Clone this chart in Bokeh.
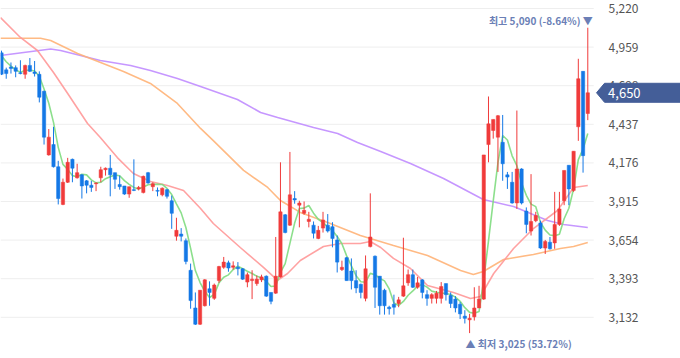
import numpy as np
from bokeh.plotting import figure
from bokeh.models import (ColumnDataSource, Range1d, FixedTicker, NumeralTickFormatter,
                          LinearAxis)
from bokeh.core.properties import value
from bokeh.embed import file_html
from bokeh.resources import INLINE

# ---------------- data ----------------
opens = [4920, 4805, 4825, 4820, 4785, 4775, 4835, 4790, 4775, 4660,
         4230, 4300, 4150, 3895, 4045, 4200, 4075, 4095, 4055, 4025,
         4035, 4075, 4130, 4140, 4110, 4030, 4020, 3965, 3995, 4000,
         3975, 4110, 4015, 3990, 3960, 3995, 3920, 3680, 3695, 3650,
         3450, 3195, 3085, 3210, 3325, 3260, 3380, 3470, 3500, 3470,
         3470, 3460, 3370, 3380, 3360, 3385, 3410, 3300, 3295, 3405,
         3825, 3755, 3935, 3890, 3835, 3780, 3755, 3665, 3735, 3755,
         3745, 3655, 3455, 3535, 3445, 3380, 3355, 3260, 3610, 3545,
         3410, 3315, 3200, 3220, 3225, 3275, 3365, 3420, 3335, 3385,
         3285, 3260, 3260, 3260, 3360, 3280, 3255, 3220, 3140, 3115,
         3135, 3195, 3255, 4300, 4395, 4350, 4315, 4095, 4045, 3905,
         4135, 3850, 3715, 3785, 3770, 3600, 3640, 3635, 3760, 3920,
         4160, 3990, 4420, 4795, 4510]
highs = [4935, 4820, 4855, 4835, 4870, 4840, 4885, 4865, 4795, 4665,
         4405, 4420, 4190, 4070, 4210, 4205, 4170, 4100, 4060, 4055,
         4045, 4150, 4145, 4230, 4110, 4090, 4020, 4015, 4200, 4020,
         4090, 4115, 4045, 4010, 4010, 4000, 3955, 3805, 3735, 3665,
         3495, 3300, 3315, 3390, 3375, 3360, 3480, 3540, 3515, 3510,
         3505, 3465, 3435, 3450, 3415, 3420, 3415, 3300, 3675, 4180,
         3830, 4250, 3985, 3920, 3915, 3845, 3780, 3750, 3845, 3830,
         3775, 3685, 3515, 3540, 3530, 3450, 3360, 3550, 3970, 3550,
         3410, 3325, 3210, 3285, 3270, 3670, 3455, 3455, 3405, 3390,
         3315, 3295, 3310, 3370, 3360, 3300, 3275, 3235, 3180, 3155,
         3335, 3345, 4230, 4625, 4470, 4500, 4500, 4115, 4115, 4530,
         4140, 3875, 4100, 3845, 3785, 3655, 3675, 3980, 3980, 4125,
         4160, 4255, 4880, 4795, 5090]
lows = [4770, 4745, 4780, 4755, 4775, 4745, 4790, 4760, 4585, 4300,
        4225, 4145, 3895, 3890, 4040, 4045, 4070, 3935, 3970, 3980,
        3985, 4045, 4090, 3950, 4000, 3995, 3960, 3940, 3985, 3990,
        3970, 4035, 3985, 3950, 3950, 3935, 3730, 3650, 3645, 3490,
        3190, 3080, 3080, 3205, 3210, 3250, 3365, 3460, 3440, 3455,
        3415, 3385, 3335, 3255, 3345, 3370, 3270, 3220, 3290, 3400,
        3700, 3750, 3900, 3740, 3825, 3740, 3665, 3660, 3705, 3705,
        3605, 3435, 3445, 3380, 3320, 3295, 3260, 3240, 3605, 3195,
        3150, 3150, 3150, 3150, 3200, 3270, 3345, 3330, 3325, 3260,
        3210, 3225, 3225, 3225, 3245, 3195, 3165, 3120, 3090, 3025,
        3110, 3195, 3250, 4180, 4340, 4115, 4055, 4000, 3900, 3865,
        3895, 3700, 3685, 3775, 3595, 3560, 3590, 3595, 3750, 3890,
        3890, 3980, 4325, 4110, 4465]
closes = [4775, 4780, 4815, 4795, 4780, 4835, 4795, 4780, 4620, 4350,
          4350, 4150, 3935, 4045, 4180, 4140, 4110, 4020, 4025, 4010,
          4040, 4130, 4140, 4095, 4065, 4015, 3965, 4015, 3990, 4010,
          4085, 4040, 4035, 3985, 4005, 3950, 3835, 3720, 3680, 3510,
          3245, 3085, 3315, 3385, 3300, 3350, 3475, 3505, 3465, 3480,
          3460, 3390, 3420, 3390, 3390, 3405, 3275, 3240, 3410, 3845,
          3705, 3960, 3925, 3905, 3855, 3795, 3700, 3720, 3790, 3715,
          3665, 3505, 3470, 3380, 3380, 3330, 3300, 3460, 3675, 3335,
          3210, 3210, 3190, 3200, 3250, 3345, 3420, 3335, 3365, 3300,
          3260, 3285, 3295, 3340, 3285, 3225, 3195, 3155, 3125, 3125,
          3195, 3255, 4230, 4440, 4470, 4495, 4170, 4080, 3905, 4135,
          3905, 3760, 3780, 3820, 3600, 3645, 3595, 3760, 3865, 4125,
          4000, 4255, 4745, 4225, 4650]

# moving-average lines (candle index, price)
ma5_head_idx = [1, 2, 3, 4]
ma5_head_val = [4900, 4860, 4830, 4805]
ma20_idx = [0.79, 5.0, 8.6, 12.0, 15.0, 19.2, 21.9, 25.5, 28.9, 32.5, 36.1, 39.5,
            43.1, 45.8, 51.5, 56.4, 59.4, 61.5, 64.2, 69.1, 72.7, 76.9, 79.0,
            81.2, 83.9, 87.5, 91.1, 96.6, 100.2, 102.3, 105.1, 109.3, 113.5,
            118.6, 122.0, 125.0]
ma20_val = [5159, 5024, 4936, 4787, 4645, 4442, 4348, 4212, 4104, 4050, 4023, 3989,
            3868, 3766, 3604, 3469, 3381, 3428, 3516, 3611, 3631, 3631, 3644,
            3604, 3530, 3462, 3347, 3300, 3259, 3273, 3428, 3597, 3732,
            3854, 4010, 4023]
ma60_idx = [0.79, 9.25, 11.4, 17.1, 26.8, 32.5, 38.2, 43.1, 45.8, 52.2, 57.3,
            60.0, 64.2, 70.0, 76.9, 83.9, 91.1, 98.1, 100.8, 102.9, 107.2,
            113.5, 119.2, 122.0, 125.0]
ma60_val = [5019, 5019, 5004, 4916, 4794, 4713, 4578, 4409, 4327, 4125, 4010,
            3922, 3841, 3773, 3685, 3617, 3550, 3448, 3421, 3442, 3523,
            3557, 3597, 3611, 3638]
ma120_idx = [0.79, 11.4, 13.5, 21.9, 28.3, 32.5, 38.2, 43.1, 50.9, 55.8, 59.4,
             67.0, 72.1, 76.3, 81.2, 87.5, 94.5, 102.9, 109.3, 116.5, 119.9, 125.0]
ma120_val = [4902, 4946, 4936, 4868, 4835, 4801, 4747, 4693, 4605, 4517, 4483,
             4415, 4375, 4314, 4253, 4172, 4071, 3928, 3881, 3786, 3759, 3739]

tick_vals = [3132, 3393, 3654, 3915, 4176, 4437, 4698, 4959, 5220]

# ---------------- derived ----------------
n = len(closes)
idx = np.arange(1, n + 1)
o = np.array(opens); h = np.array(highs); l = np.array(lows); c = np.array(closes)
up = c >= o

ma5 = np.convolve(c, np.ones(5) / 5, mode="valid")
ma5_idx = list(ma5_head_idx) + list(idx[4:])
ma5_val = list(ma5_head_val) + list(ma5)

RED = "#f03b3b"
BLUE = "#1478e6"
TAG = "#445e98"
NOTE = "#6b7fb6"

X0 = 0.7885          # left edge of the plotting area (candle index)
XAX = 126.85         # where the price scale starts
X1 = 144.61          # right edge of the canvas

p = figure(width=680, height=358, output_backend="svg", toolbar_location=None,
           x_range=Range1d(X0, X1), y_range=Range1d(2853.3, 5274.1),
           x_axis_location=None, y_axis_location=None,
           min_border_left=0, min_border_top=0, min_border_bottom=0, min_border_right=0)
p.outline_line_color = None
p.background_fill_color = "white"
p.border_fill_color = "white"
p.xgrid.visible = False
p.ygrid.visible = False

ax = LinearAxis(fixed_location=XAX)
ax.ticker = FixedTicker(ticks=tick_vals)
ax.formatter = NumeralTickFormatter(format="0,0")
ax.axis_line_color = None
ax.major_tick_line_color = None
ax.minor_tick_line_color = None
ax.major_tick_out = 0
ax.major_tick_in = 0
ax.major_label_standoff = 12
ax.major_label_text_font = "Noto Sans CJK KR"
ax.major_label_text_font_size = "12px"
ax.major_label_text_color = "#555555"
p.add_layout(ax, "right")

# horizontal grid lines at the price-scale ticks, ending where the scale starts
p.segment(x0=[X0] * len(tick_vals), x1=[XAX - 0.6] * len(tick_vals),
          y0=tick_vals, y1=tick_vals, line_color="#eeeeee", line_width=1, level="underlay")

# moving averages
p.line(ma120_idx, ma120_val, line_color="#c08cff", line_width=1.6, line_alpha=0.9)
p.line(ma60_idx, ma60_val, line_color="#ffb277", line_width=1.6, line_alpha=0.9)
p.line(ma20_idx, ma20_val, line_color="#ff9898", line_width=1.6, line_alpha=0.9)
p.line(ma5_idx, ma5_val, line_color="#80dc80", line_width=1.6, line_alpha=0.9)

# candles
for mask, col in ((up, RED), (~up, BLUE)):
    src = ColumnDataSource(dict(x=idx[mask], o=o[mask], h=h[mask], l=l[mask], c=c[mask],
                                top=np.maximum(o, c)[mask], bot=np.minimum(o, c)[mask]))
    p.segment(x0="x", y0="l", x1="x", y1="h", source=src, line_color=col, line_width=1)
    p.vbar(x="x", width=0.7, top="top", bottom="bot", source=src,
           fill_color=col, line_color=col, line_width=0.5)

# high / low markers
hi_i = int(np.argmax(h)); lo_i = int(np.argmin(l))
last = c[-1]
hi_txt = f"최고 {h[hi_i]:,} ({(last / h[hi_i] - 1) * 100:.2f}%) ▼"
lo_txt = f"▲ 최저 {l[lo_i]:,} ({(last / l[lo_i] - 1) * 100:.2f}%)"
p.text(x=[idx[hi_i]], y=[h[hi_i]], text=[hi_txt], x_offset=5, y_offset=-7,
       text_align="right", text_baseline="middle",
       text_font=value("Noto Sans CJK KR"), text_font_size="10px", text_font_style="bold",
       text_color=NOTE)
p.text(x=[idx[lo_i]], y=[l[lo_i]], text=[lo_txt], x_offset=-4, y_offset=10,
       text_align="left", text_baseline="middle",
       text_font=value("Noto Sans CJK KR"), text_font_size="10px", text_font_style="bold",
       text_color=NOTE)

# current price tag (drawn above the price scale)
px = 6.762  # price per pixel
p.patch(x=[XAX, XAX + 1.69, X1 + 1, X1 + 1, XAX + 1.69],
        y=[last, last + 9.5 * px, last + 9.5 * px, last - 9.5 * px, last - 9.5 * px],
        fill_color=TAG, line_color=TAG, line_width=1, level="overlay")
p.text(x=[XAX + 2.45], y=[last], text=[f"{last:,}"], text_baseline="middle",
       text_align="left", text_font=value("Noto Sans CJK KR"),
       text_font_size="13px", text_color="white", level="overlay")

open("out.html", "w").write(file_html(p, INLINE))
